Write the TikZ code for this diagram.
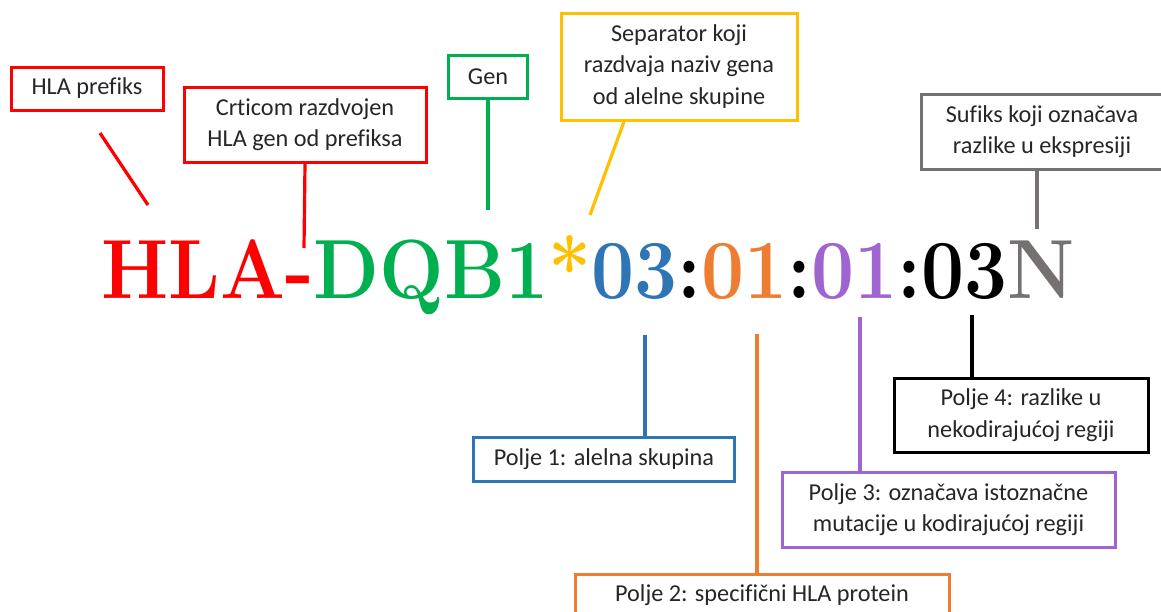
\documentclass[tikz,border=0pt]{standalone}
\usepackage{fontspec}
\usepackage{graphicx}
\newfontfamily\boxfont[Ligatures=NoCommon]{Carlito}
\usetikzlibrary{calc}
\definecolor{hlared}{HTML}{FF0000}
\definecolor{hlagreen}{HTML}{00B050}
\definecolor{hlayellow}{HTML}{FFC000}
\definecolor{hlablue}{HTML}{2E75B6}
\definecolor{hlaorange}{HTML}{ED7D31}
\definecolor{hlapurple}{HTML}{A064D0}
\definecolor{hlagray}{HTML}{767171}

\begin{document}
\begin{tikzpicture}[x=0.75pt,y=-0.75pt,
    lab/.style={draw=#1, line width=2.25pt, align=center, inner sep=0pt,
        font=\boxfont\fontsize{18.2}{23.5}\selectfont, text=black!85},
    pin/.style={draw=#1, line width=2.4pt}]
    \useasboundingbox[fill=white] (0,0) rectangle (1161,611);
    % the allele name
    \node[anchor=base west, inner sep=0pt] (code) at (101,298)
        {\scalebox{0.91}[1]{\fontsize{63}{63}\selectfont\bfseries
        \textcolor{hlared}{HLA-}\textcolor{hlagreen}{DQB1}\textcolor{hlayellow}{*}%
        \textcolor{hlablue}{03}:\textcolor{hlaorange}{01}:\textcolor{hlapurple}{01}:03\textcolor{hlagray}{N}}};
    % boxes above
    \node[lab=hlared, minimum width=114pt, minimum height=32.25pt] (pref) at (87,88.5) {HLA prefiks};
    \node[lab=hlared, minimum width=181.5pt, minimum height=56.25pt] (crt) at (305,124.5) {Crticom razdvojen\\HLA gen od prefiksa};
    \node[lab=hlagreen, minimum width=59.25pt, minimum height=32.25pt] (gen) at (488,76.5) {Gen};
    \node[lab=hlayellow, minimum width=177pt, minimum height=80.25pt] (sep) at (679,66.5) {Separator koji\\razdvaja naziv gena\\od alelne skupine};
    \node[lab=hlagray, minimum width=181.5pt, minimum height=56.25pt] (suf) at (1042,131.5) {Sufiks koji označava\\razlike u ekspresiji};
    % boxes below
    \node[lab=hlablue, minimum width=195.75pt, minimum height=33pt] (p1) at (604,459) {Polje 1: alelna skupina};
    \node[lab=hlaorange, minimum width=280.5pt, minimum height=31.5pt] (p2) at (762,595) {Polje 2: specifični HLA protein};
    \node[lab=hlapurple, minimum width=249.75pt, minimum height=56.25pt] (p3) at (948.5,509.5) {Polje 3: označava istoznačne\\mutacije u kodirajućoj regiji};
    \node[lab=black, minimum width=190.5pt, minimum height=55.5pt] (p4) at (1021,415) {Polje 4: razlike u\\nekodirajućoj regiji};
    % connectors
    \coordinate (a1) at (100,133);
    \coordinate (a2) at (148,205);
    \coordinate (b) at (304,248);
    \coordinate (c) at (488,210);
    \coordinate (d1) at ($(sep.south west)!0.27!(sep.south east)$);
    \coordinate (d2) at (590,215);
    \coordinate (e) at (1037,229);
    \coordinate (f) at (645,335);
    \coordinate (g) at (757,334);
    \coordinate (h) at (860,317);
    \coordinate (k) at (972,315);
    \draw[pin=hlared] (a1) -- (a2);
    \draw[pin=hlared] (crt.south) -- (b);
    \draw[pin=hlagreen] (gen.south) -- (c);
    \draw[pin=hlayellow] (d1) -- (d2);
    \draw[pin=hlagray] (e |- suf.south) -- (e);
    \draw[pin=hlablue] (f) -- (f |- p1.north);
    \draw[pin=hlaorange] (g) -- (g |- p2.north);
    \draw[pin=hlapurple] (h) -- (h |- p3.north);
    \draw[pin=black] (k) -- (k |- p4.north);
\end{tikzpicture}
\end{document}
